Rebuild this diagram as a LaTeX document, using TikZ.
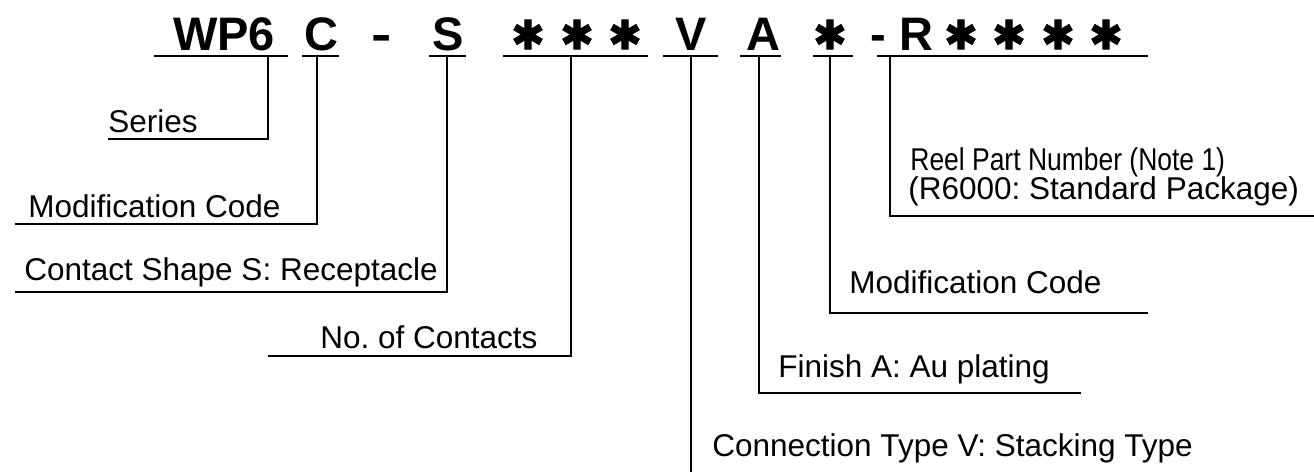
\documentclass[tikz,border=0pt]{standalone}
\usepackage{fontspec}
\usepackage{graphicx}
\setmainfont{Liberation Sans}
\newfontfamily\symfont[FakeBold=2.5]{DejaVu Sans}
\frenchspacing
\begin{document}
\begin{tikzpicture}[x=0.5pt,y=-0.5pt,
  code/.style={font=\fontsize{23.5}{28}\selectfont\bfseries, inner sep=0pt, anchor=base},
  star/.style={font=\symfont\fontsize{20}{24}\selectfont, inner sep=0pt, anchor=center},
  lbl/.style={font=\fontsize{15.75}{18}\selectfont, inner sep=0pt, anchor=base west},
  uline/.style={line width=1.4pt},
  conn/.style={line width=1.1pt},
  thinconn/.style={line width=0.8pt}]
\useasboundingbox (0,0) rectangle (1314,472);

% --- code characters
\node[code] (wp6) at (224,50) {WP6};
\node[code] (cc) at (321,50) {C};
\node[code] (d1) at (382,50) {\scalebox{1.3}[1]{-}};
\node[code] (ss) at (448,50) {S};
\node[star] (n1) at (528,34.5) {✱};
\node[star] (n2) at (577,34.5) {✱};
\node[star] (n3) at (625,34.5) {✱};
\node[code] (vv) at (691,50) {V};
\node[code] (aa) at (763,50) {A};
\node[star] (m1) at (830,34.5) {✱};
\node[code] (d2) at (878,50) {-};
\node[code] (rr) at (916,50) {R};
\node[star] (r1) at (961,34.5) {✱};
\node[star] (r2) at (1009,34.5) {✱};
\node[star] (r3) at (1058,34.5) {✱};
\node[star] (r4) at (1106,34.5) {✱};

% --- underline ends and ticks
\coordinate (uWa) at (154,56); \coordinate (uWb) at (288,56); \coordinate (tW) at (268,56);
\coordinate (uCa) at (302,56); \coordinate (uCb) at (339,56); \coordinate (tC) at (317,56);
\coordinate (uSa) at (429,56); \coordinate (uSb) at (466,56); \coordinate (tS) at (447,56);
\coordinate (uNa) at (503,56); \coordinate (uNb) at (648,56); \coordinate (tN) at (571,56);
\coordinate (uVa) at (663,56); \coordinate (uVb) at (718,56); \coordinate (tV) at (691,56);
\coordinate (uAa) at (740,56); \coordinate (uAb) at (781,56); \coordinate (tA) at (759,56);
\coordinate (uMa) at (813,56); \coordinate (uMb) at (853,56); \coordinate (tM) at (830,56);
\coordinate (uRa) at (877,56); \coordinate (uRb) at (1148,56); \coordinate (tR) at (890,56);

\foreach \p in {W,C,S,N,V,A,M,R} \draw[uline] (u\p a) -- (u\p b);

% --- labels
\node[lbl] (lSer) at (108,132) {Series};
\node[lbl] (lMod) at (28,217) {Modification Code};
\node[lbl] (lCon) at (24,280) {Contact Shape S: Receptacle};
\node[lbl] (lNum) at (320,348) {No. of Contacts};
\node[lbl] (lTyp) at (712,456) {Connection Type V: Stacking Type};
\node[lbl] (lFin) at (778,377) {Finish A: Au plating};
\node[lbl] (lMod2) at (849,293) {Modification Code};
\node[lbl] (lReel) at (910,170) {\scalebox{0.84}[1]{Reel Part Number (Note 1)}};
\node[lbl] (lReel2) at (908,199) {(R6000: Standard Package)};

% --- connector ends
\coordinate (eSer) at (108,139);
\coordinate (eMod) at (15,224);
\coordinate (eCon) at (15,292);
\coordinate (eNum) at (268,356);
\coordinate (eTyp) at (691,472);
\coordinate (eFin) at (1081,393);
\coordinate (eMod2) at (1148,313);
\coordinate (eReel) at (1314,216);

\draw[conn] (tW) |- (eSer);
\draw[conn] (tC) |- (eMod);
\draw[conn] (tS) |- (eCon);
\draw[thinconn] (tN) |- (eNum);
\draw[conn] (tV) -- (eTyp);
\draw[conn] (tA) |- (eFin);
\draw[conn] (tM) |- (eMod2);
\draw[conn] (tR) |- (eReel);
\end{tikzpicture}
\end{document}
